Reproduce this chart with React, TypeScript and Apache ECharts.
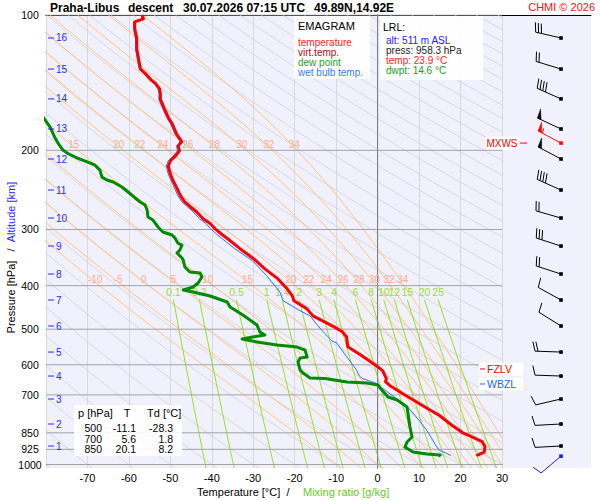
import React, { useEffect, useRef } from "react";
import * as echarts from "echarts";

const FONT = '"Liberation Sans", Arial, Helvetica, sans-serif';
const fnt = (size: number, bold = false) => `${bold ? "bold " : ""}${size}px ${FONT}`;

// ---------- sounding profiles : [pressure hPa, value °C] ----------
const temperature: number[][] = [
  [100, -56.8], [102, -56.5], [103.6, -58.6], [107, -58.6], [113, -58.1], [119, -58.1], [125, -57.7],
  [132, -57.2], [135, -56.0], [139, -54.8], [142, -53.6], [146, -52.6], [150, -52.4], [154, -52.4],
  [162, -51.4], [169, -50.5], [175, -49.5], [184, -48.5], [189, -47.6], [191.5, -47.3], [195.5, -48.1],
  [200.5, -47.8], [206, -48.8], [211, -50.0], [217, -50.5], [226, -50.0], [234, -49.3], [244, -48.3],
  [252, -47.6], [260, -46.6], [267, -45.2], [274, -43.7], [284, -42.1], [291, -40.4], [299, -39.2],
  [307, -37.7], [315, -36.1], [331, -33.2], [348, -30.0], [367, -27.2], [386, -24.1], [406, -21.9],
  [421, -20.6], [432, -20.2], [450, -17.1], [467, -15.6], [494, -10.5], [506, -8.6], [520, -7.5],
  [547, -7.2], [572, -3.9], [603, -0.3], [618, 1.2], [644, 2.1], [654, 1.9], [667, 2.9], [695, 6.0],
  [739, 10.8], [778, 14.9], [819, 18.0], [850, 20.5], [862, 22.1], [889, 25.2], [912, 25.9],
  [938, 25.7], [953, 24.1], [958.3, 23.9],
];

const dewPoint: number[][] = [
  [160, -82.5], [171.3, -80.2], [177.5, -79.0], [187.8, -77.8], [192.7, -77.1], [199.7, -75.9],
  [202.8, -74.9], [208.0, -72.5], [212.4, -69.9], [215.7, -68.2], [221.3, -67.0], [229.4, -66.5],
  [232.8, -65.3], [235.2, -63.8], [241.3, -61.7], [247.6, -60.2], [255.3, -58.5], [260.6, -57.3],
  [264.7, -56.1], [271.5, -55.6], [281.4, -55.4], [285.8, -54.2], [296.2, -53.0], [303.9, -51.8],
  [308.6, -49.6], [313.4, -48.9], [321.6, -48.2], [324.9, -47.2], [333.3, -47.7], [338.4, -48.4],
  [347.2, -47.2], [350.8, -46.9], [363.6, -46.5], [373.0, -45.3], [374.9, -42.8], [382.7, -42.4],
  [394.6, -43.3], [402.8, -44.5], [409.0, -46.9], [413.3, -44.5], [421.8, -40.4], [435.0, -36.3],
  [446.3, -35.6], [464.9, -32.5], [477.0, -30.8], [489.4, -29.1], [507.3, -28.4], [515.2, -27.2],
  [520.5, -30.1], [525.9, -32.7], [534.0, -29.1], [542.3, -24.3], [547.9, -19.4], [556.4, -17.5],
  [576.7, -17.0], [579.6, -18.7], [591.6, -19.2], [616.3, -18.7], [625.8, -18.0], [642.1, -16.3],
  [643.5, -12.7], [655.4, -7.4], [658.7, -2.6], [665.5, 0.1], [675.8, 0.6], [707.7, 2.5],
  [718.6, 4.7], [744.8, 7.1], [768.1, 7.3], [825.2, 7.8], [868.6, 8.3], [891.2, 7.1], [914.3, 6.6],
  [938.1, 8.5], [947.8, 11.9], [952.7, 15.1], [958.3, 14.6],
];

const wetBulb: number[][] = [
  [100, -57.1], [102, -56.8], [103.6, -58.9], [107, -58.9], [113, -58.4], [119, -58.4], [125, -58.0],
  [132, -57.5], [135, -56.4], [139, -55.2], [142, -54.0], [146, -53.0], [150, -52.7], [154, -52.8],
  [162, -51.8], [169, -50.9], [175, -49.9], [184, -48.9], [189, -48.0], [191.5, -47.7], [195.5, -48.5],
  [200.5, -48.3], [206, -49.3], [211, -50.5], [217, -51.0], [226, -50.5], [234, -49.8], [244, -48.9],
  [252, -48.2], [260, -47.3], [267, -45.9], [274, -44.5], [284, -43.0], [291, -41.4], [299, -40.3],
  [307, -38.9], [315, -37.4], [331, -34.5], [352, -30.2], [380, -26.8], [413, -23.6], [432, -22.8],
  [455, -18.7], [467, -16.3], [489, -14.6], [506, -13.2], [531, -11.0], [537, -9.8], [572, -7.7],
  [616, -5.1], [636, -4.4], [644, -3.6], [660, -0.3], [687, 2.1], [716, 4.8], [753, 7.7],
  [800, 10.1], [843, 12.0], [909, 14.1], [930, 14.9], [946, 16.8], [955, 17.7],
];

// ---------- axes ----------
const pressureLevels = [100, 200, 300, 400, 500, 600, 700, 850, 925, 1000];
const pressureExtended = [850, 925, 1000];
const tempMin = -80;
const tempMax = 30;
const tempStep = 10;
const pTop = 100;
const pBottom = 1018;

const altitudeKm = [16, 15, 14, 13, 12, 11, 10, 9, 8, 7, 6, 5, 4, 3, 2, 1];
const altitudeP = [112.5, 131.9, 153.7, 179.3, 209.1, 245.1, 282.9, 326.6, 376.9, 430.6, 491.9, 562.1, 635.6, 715.0, 812.6, 909.6];

// ---------- wind barbs ----------
const barbP = [112.5, 131.9, 153.7, 179.3, 192.7, 209.1, 245.1, 282.9, 326.6, 376.9, 430.6, 491.9, 562.1, 635.6, 715.0, 812.6, 909.6, 958.3];
const barbDir = [283, 287, 294, 295, 298, 298, 294, 286, 288, 288, 299, 302, 272, 272, 257, 267, 267, 230];
const barbSpeed = [30, 20, 40, 50, 55, 50, 40, 20, 30, 20, 10, 10, 20, 10, 10, 10, 10, 10];
const barbKind = [0, 0, 0, 0, 1, 0, 0, 0, 0, 0, 0, 0, 0, 0, 0, 0, 0, 2];
const barbColors = ["#000000", "#ff0000", "#1a1aff"];

// ---------- thermodynamic diagram lines ----------
const dryThetaC = [-80, -70, -60, -50, -40, -30, -20, -10, 0, 10, 20, 30, 40, 50, 60, 70, 80, 90, 100, 110, 120, 130, 140, 150, 160, 170, 180, 190, 200, 210, 220, 230, 240, 250, 260, 270, 280, 290, 300, 310];
const moistThetaW = [-10, -5, 0, 5, 10, 15, 20, 22, 24, 26, 28, 30, 32, 34];
const moistLabelRows = [387.8, 193.9];
const mixingRatios = [0.1, 0.2, 0.5, 1, 1.4, 2, 3, 4, 6, 8, 10, 12, 15, 20, 25];
const mixingTopP = 430;
const mixingLabelP = 414;

// ---------- labels ----------
const levelNames = ["MXWS", "FZLV", "WBZL"];
const levelP = [192.7, 613, 662];
const levelColors = ["#ff0000", "#ff0000", "#2266ff"];

const tableHeader = ["p [hPa]", "T", "Td [°C]"];
const tableRows = [
  ["500", "-11.1", "-28.3"],
  ["700", "5.6", "1.8"],
  ["850", "20.1", "8.2"],
];
const lrlLines = ["alt: 511 m ASL", "press: 958.3 hPa", "temp: 23.9 °C", "dwpt: 14.6 °C"];
const lrlColors = ["#1a1aff", "#222222", "#ff1a1a", "#22a022"];
const legendLines = ["temperature", "virt.temp.", "dew point", "wet bulb temp."];
const legendColors = ["#ff1a1a", "#a01010", "#1fa01f", "#3a7cf5"];

// ---------- physics helpers ----------
const RD = 287.04, CP = 1005.7, LV = 2.501e6, EPS = 0.622, KAPPA = 0.2857;
const satVap = (tc: number) => 6.112 * Math.exp((17.67 * tc) / (tc + 243.5));

function dryAdiabat(thC: number): number[][] {
  const pts: number[][] = [];
  for (let i = 0; i <= 46; i++) {
    const p = 100 * Math.pow(10.2, i / 46);
    pts.push([(thC + 273.15) * Math.pow(p / 1000, KAPPA) - 273.15, p]);
  }
  return pts;
}

function moistAdiabat(twC: number): number[][] {
  const dTdp = (p: number, T: number) => {
    const e = satVap(T - 273.15);
    const rs = (EPS * e) / (p - e);
    return (RD * T + LV * rs) / (p * (CP + (LV * LV * rs * EPS) / (RD * T * T)));
  };
  const step = (p: number, T: number, h: number) => {
    const k1 = dTdp(p, T);
    const k2 = dTdp(p + h / 2, T + (h / 2) * k1);
    const k3 = dTdp(p + h / 2, T + (h / 2) * k2);
    const k4 = dTdp(p + h, T + h * k3);
    return T + (h / 6) * (k1 + 2 * k2 + 2 * k3 + k4);
  };
  const up: number[][] = [];
  let T = twC + 273.15;
  up.push([twC, 1000]);
  for (let p = 1000; p > 100; p -= 5) {
    T = step(p, T, -5);
    up.push([T - 273.15, p - 5]);
  }
  const down: number[][] = [];
  let Tb = twC + 273.15;
  for (let p = 1000; p < 1020; p += 5) {
    Tb = step(p, Tb, 5);
    down.push([Tb - 273.15, p + 5]);
  }
  return [...up.reverse(), ...down];
}

function mixingLine(w: number): number[][] {
  const pts: number[][] = [];
  for (let p = mixingTopP; p <= 1020; p += 10) {
    const e = (w * p) / (622 + w);
    const l = Math.log(e / 6.112);
    pts.push([(243.5 * l) / (17.67 - l), p]);
  }
  return pts;
}

function interpT(curve: number[][], p: number): number {
  for (let i = 0; i < curve.length - 1; i++) {
    const a = curve[i], b = curve[i + 1];
    if ((a[1] - p) * (b[1] - p) <= 0) {
      const t = (p - a[1]) / (b[1] - a[1] || 1);
      return a[0] + t * (b[0] - a[0]);
    }
  }
  return NaN;
}

function buildOption(): any {
  const series: any[] = [];
  const lineBase = {
    type: "line", xAxisIndex: 0, yAxisIndex: 0, symbol: "none", silent: true,
    animation: false, smooth: false,
  };

  dryThetaC.forEach((th) =>
    series.push({ ...lineBase, z: 1, data: dryAdiabat(th), lineStyle: { color: "#d0d0d0", width: 0.8 } })
  );
  const moistCurves = moistThetaW.map((tw) => moistAdiabat(tw));
  moistCurves.forEach((c) =>
    series.push({ ...lineBase, z: 1, data: c, lineStyle: { color: "#ffc27a", width: 1 } })
  );
  mixingRatios.forEach((w) =>
    series.push({ ...lineBase, z: 1, data: mixingLine(w), lineStyle: { color: "#99dd1a", width: 1 } })
  );
  pressureLevels.forEach((p) => {
    const ext = pressureExtended.includes(p);
    series.push({
      ...lineBase, z: 2, clip: !ext,
      data: [[tempMin, p], [ext ? 40.5 : tempMax, p]],
      lineStyle: { color: "#a3a3a3", width: 1 },
    });
  });
  series.push({ ...lineBase, z: 2, data: [[0, pTop], [0, pBottom]], lineStyle: { color: "#8f8f8f", width: 1 } });

  // profiles
  series.push({ ...lineBase, z: 5, data: wetBulb.map(([p, t]) => [t, p]), lineStyle: { color: "#2f6cf5", width: 1 } });
  series.push({ ...lineBase, z: 6, data: dewPoint.map(([p, t]) => [t, p]), lineStyle: { color: "#008a00", width: 3, join: "round" } });
  series.push({ ...lineBase, z: 7, data: temperature.map(([p, t]) => [t, p]), lineStyle: { color: "#ff0000", width: 3, join: "round" } });

  const textStyle = (text: string, color: string, size: number, align: string, valign: string) => ({
    text, fill: color, font: fnt(size), textAlign: align, textVerticalAlign: valign, align, verticalAlign: valign,
  });

  // moist adiabat labels
  const moistLabels: number[][] = [];
  moistLabelRows.forEach((row) => {
    moistCurves.forEach((c, i) => {
      const t = interpT(c, row);
      if (t > -79 && t < 29) moistLabels.push([t, row, moistThetaW[i]]);
    });
  });
  series.push({
    type: "custom", xAxisIndex: 0, yAxisIndex: 0, silent: true, z: 3,
    data: moistLabels.map((d) => [d[0], d[1]]),
    renderItem: (params: any, api: any) => {
      const d = moistLabels[params.dataIndex];
      const c = api.coord([d[0], d[1]]);
      return { type: "text", x: c[0] + 3, y: c[1], style: textStyle(String(d[2]), "#ffa888", 10, "center", "middle") };
    },
  });

  // mixing ratio labels
  const mixLabels = mixingRatios.map((w) => [mixingLine(w)[0][0], mixingLabelP]);
  series.push({
    type: "custom", xAxisIndex: 0, yAxisIndex: 0, silent: true, z: 3,
    data: mixLabels,
    renderItem: (params: any, api: any) => {
      const c = api.coord([api.value(0), api.value(1)]);
      return { type: "text", x: c[0], y: c[1], style: textStyle(String(mixingRatios[params.dataIndex]), "#99dd33", 10.5, "center", "middle") };
    },
  });

  // pressure labels
  series.push({
    type: "custom", xAxisIndex: 0, yAxisIndex: 0, silent: true, z: 10,
    data: pressureLevels.map((p) => [tempMin, p]),
    renderItem: (params: any, api: any) => {
      const c = api.coord([api.value(0), api.value(1)]);
      return { type: "text", x: c[0] - 16, y: c[1], style: textStyle(String(pressureLevels[params.dataIndex]), "#000000", 10.5, "center", "middle") };
    },
  });

  // altitude ticks
  series.push({
    type: "custom", xAxisIndex: 0, yAxisIndex: 0, silent: true, z: 10,
    data: altitudeP.map((p) => [tempMin, p]),
    renderItem: (params: any, api: any) => {
      const c = api.coord([api.value(0), api.value(1)]);
      return {
        type: "group",
        children: [
          { type: "line", shape: { x1: c[0] + 2, y1: c[1], x2: c[0] + 8, y2: c[1] }, style: { stroke: "#2828ff", lineWidth: 1 } },
          { type: "text", x: c[0] + 10, y: c[1], style: textStyle(String(altitudeKm[params.dataIndex]), "#2828ff", 10, "left", "middle") },
        ],
      };
    },
  });

  // level marks (MXWS, FZLV, WBZL)
  series.push({
    type: "custom", xAxisIndex: 0, yAxisIndex: 0, silent: true, z: 12,
    data: levelP.map((p) => [tempMax, p]),
    renderItem: (params: any, api: any) => {
      const i = params.dataIndex;
      const c = api.coord([api.value(0), api.value(1)]);
      const col = levelColors[i];
      if (i === 0) {
        return {
          type: "group",
          children: [
            { type: "rect", shape: { x: c[0] - 16, y: c[1] - 6.5, width: 33, height: 13 }, style: { fill: "#ffffff" } },
            { type: "text", x: c[0] + 15.5, y: c[1], style: textStyle(levelNames[i], col, 10, "right", "middle") },
            { type: "line", shape: { x1: c[0] + 18, y1: c[1], x2: c[0] + 25, y2: c[1] }, style: { stroke: col, lineWidth: 1 } },
          ],
        };
      }
      return {
        type: "group",
        children: [
          { type: "rect", shape: { x: c[0] - 23, y: c[1] - 6.5, width: 44, height: 13 }, style: { fill: "#ffffff" } },
          { type: "line", shape: { x1: c[0] - 22, y1: c[1], x2: c[0] - 17, y2: c[1] }, style: { stroke: col, lineWidth: 1 } },
          { type: "text", x: c[0] - 15, y: c[1], style: textStyle(levelNames[i], col, 10.5, "left", "middle") },
        ],
      };
    },
  });

  // wind barbs
  series.push({
    type: "custom", xAxisIndex: 2, yAxisIndex: 1, silent: true, z: 12,
    data: barbP.map((p) => [0.663, p]),
    renderItem: (params: any, api: any) => {
      const i = params.dataIndex;
      const c = api.coord([api.value(0), api.value(1)]);
      const col = barbColors[barbKind[i]];
      const rad = (barbDir[i] * Math.PI) / 180;
      const ux = Math.sin(rad), uy = -Math.cos(rad);
      const L = 26, F = 9.5;
      const ex = c[0] + ux * L, ey = c[1] + uy * L;
      const nx = -uy, ny = ux;
      const ch: any[] = [
        { type: "line", shape: { x1: c[0], y1: c[1], x2: ex, y2: ey }, style: { stroke: col, lineWidth: 1 } },
        { type: "rect", shape: { x: c[0] - 1.8, y: c[1] - 1.8, width: 3.6, height: 3.6 }, style: { fill: col } },
      ];
      let s = Math.round(barbSpeed[i] / 5) * 5;
      let pos = 0;
      while (s >= 50) {
        const bx = ex - ux * pos, by = ey - uy * pos;
        ch.push({
          type: "polygon",
          shape: { points: [[bx, by], [bx + nx * F + ux * 1, by + ny * F + uy * 1], [bx - ux * 4, by - uy * 4]] },
          style: { fill: col, stroke: col, lineWidth: 0.5 },
        });
        pos += 5; s -= 50;
      }
      while (s >= 10) {
        const bx = ex - ux * pos, by = ey - uy * pos;
        ch.push({ type: "line", shape: { x1: bx, y1: by, x2: bx + nx * F + ux * 2.5, y2: by + ny * F + uy * 2.5 }, style: { stroke: col, lineWidth: 1 } });
        pos += 3; s -= 10;
      }
      if (s >= 5) {
        const bx = ex - ux * pos, by = ey - uy * pos;
        ch.push({ type: "line", shape: { x1: bx, y1: by, x2: bx + nx * F * 0.5 + ux * 1.2, y2: by + ny * F * 0.5 + uy * 1.2 }, style: { stroke: col, lineWidth: 1 } });
      }
      return { type: "group", children: ch };
    },
  });

  // ---------- static texts / boxes ----------
  const T = (x: number, y: number, text: string, color: string, size: number, opts: any = {}) => ({
    type: "text", x, y, z: 60, silent: true, rotation: opts.rot || 0,
    style: {
      text, fill: color, font: fnt(size, !!opts.bold),
      textAlign: opts.align || "left", align: opts.align || "left",
      textVerticalAlign: "middle", verticalAlign: "middle",
    },
  });
  const R = (x: number, y: number, w: number, h: number) => ({
    type: "rect", z: 55, silent: true, shape: { x, y, width: w, height: h }, style: { fill: "rgba(255,255,255,0.9)" },
  });

  const titleTexts = ["Praha-Libus", "descent", "30.07.2026 07:15 UTC", "49.89N,14.92E"];
  const titleX = [50, 128, 183, 314];

  const graphic: any[] = [
    ...titleTexts.map((t, i) => T(titleX[i], 7.5, t, "#000000", 12, { bold: true })),
    T(595, 7, "CHMI © 2026", "#ee1111", 11, { align: "right" }),
    // y axis title
    T(11, 297, "Pressure [hPa]", "#000000", 11, { rot: Math.PI / 2, align: "center" }),
    T(11, 250, "/", "#000000", 11, { rot: Math.PI / 2, align: "center" }),
    T(11, 212, "Altitude [km]", "#2828ff", 11, { rot: Math.PI / 2, align: "center" }),
    // x axis title
    T(197, 492, "Temperature [°C]", "#000000", 11),
    T(288, 492, "/", "#000000", 11, { align: "center" }),
    T(303, 492, "Mixing ratio [g/kg]", "#66cc22", 11),
    // legend
    R(294, 16, 76, 63),
    T(298, 26, "EMAGRAM", "#000000", 11),
    ...legendLines.map((t, i) => T(298, 42 + i * 10, t, legendColors[i], 10)),
    // LRL box
    R(380, 16, 103, 64),
    T(383, 27, "LRL:", "#000000", 10.5),
    ...lrlLines.map((t, i) => T(386, 40 + i * 10, t, lrlColors[i], 10)),
    // table
    R(74, 405, 108, 51),
    T(78, 413, tableHeader[0], "#000000", 11),
    T(127, 413, tableHeader[1], "#000000", 11, { align: "center" }),
    T(147, 413, tableHeader[2], "#000000", 11),
    ...tableRows.flatMap((row, r) => [
      T(102, 428 + r * 10.5, row[0], "#000000", 10.5, { align: "right" }),
      T(136, 428 + r * 10.5, row[1], "#000000", 10.5, { align: "right" }),
      T(173, 428 + r * 10.5, row[2], "#000000", 10.5, { align: "right" }),
    ]),
  ];

  return {
    animation: false,
    backgroundColor: "#ffffff",
    grid: [
      { left: 46, top: 15, width: 456, height: 453, show: true, backgroundColor: "#f1f1fe", borderWidth: 0, borderColor: "transparent" },
      { left: 502, top: 15, width: 89, height: 453, show: true, backgroundColor: "#f1f1fe", borderWidth: 0, borderColor: "transparent" },
    ],
    xAxis: [
      {
        gridIndex: 0, type: "value", min: tempMin, max: tempMax, interval: tempStep, position: "bottom",
        axisLine: { show: false }, axisTick: { show: false },
        axisLabel: {
          show: true, margin: 4, color: "#000000", fontSize: 11, fontFamily: FONT,
          formatter: (v: number) => (v === tempMin ? "" : String(v)),
        },
        splitLine: { show: true, lineStyle: { color: "#d9d9d9", width: 1 } },
      },
      {
        gridIndex: 0, type: "value", min: tempMin, max: tempMax, position: "top",
        axisLine: { show: true, lineStyle: { color: "#000000", width: 1 } },
        axisTick: { show: false }, axisLabel: { show: false }, splitLine: { show: false },
      },
      {
        gridIndex: 1, type: "value", min: 0, max: 1, position: "top",
        axisLine: { show: true, lineStyle: { color: "#000000", width: 1 } },
        axisTick: { show: false }, axisLabel: { show: false }, splitLine: { show: false },
      },
    ],
    yAxis: [
      {
        gridIndex: 0, type: "log", logBase: 10, min: pTop, max: pBottom, inverse: true,
        axisLine: { show: true, lineStyle: { color: "#000000", width: 1 } },
        axisTick: { show: false }, axisLabel: { show: false }, splitLine: { show: false }, minorSplitLine: { show: false },
      },
      {
        gridIndex: 1, type: "log", logBase: 10, min: pTop, max: pBottom, inverse: true,
        axisLine: { show: false }, axisTick: { show: false }, axisLabel: { show: false }, splitLine: { show: false },
      },
    ],
    series,
    graphic,
  };
}

export default function App() {
  const ref = useRef<HTMLDivElement>(null);
  useEffect(() => {
    document.body.style.margin = "0";
    const chart = echarts.init(ref.current as HTMLDivElement, null, { renderer: "svg" });
    chart.setOption(buildOption());
    return () => chart.dispose();
  }, []);
  return (
    <div
      ref={ref}
      style={{ position: "absolute", left: 0, top: 0, width: 600, height: 500, background: "#ffffff" }}
    />
  );
}
